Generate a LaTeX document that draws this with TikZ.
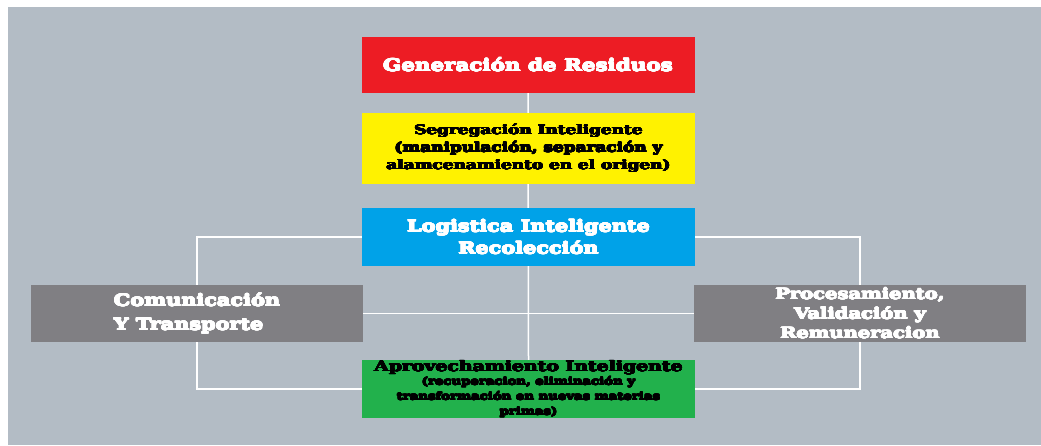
\documentclass[tikz,border=0pt]{standalone}
\usepackage{fontspec}
\usepackage[copies]{contour}
\contourlength{0.4pt}
\contournumber{16}
\newfontfamily\heavy{DejaVu Serif Bold}[FakeStretch=1.3]
\newcommand{\wline}[1]{\contour{white}{#1}}
\newcommand{\kline}[1]{\contour{black}{#1}}
\usetikzlibrary{backgrounds}
\definecolor{bg}{HTML}{B3BCC5}
\definecolor{rbox}{HTML}{ED1C24}
\definecolor{ybox}{HTML}{FFF200}
\definecolor{bbox}{HTML}{00A2E8}
\definecolor{gbox}{HTML}{807F83}
\definecolor{grbox}{HTML}{22B14C}
\tikzset{
  box/.style={draw=none, inner sep=0pt, minimum width=333pt, font=\heavy, align=center},
  link/.style={draw=white, line width=1.5pt},
}
\begin{document}
\begin{tikzpicture}[x=1pt,y=-1pt]
\useasboundingbox (0,0) rectangle (1041,445);
\node[box, fill=rbox, text=white, minimum height=56pt, font=\heavy\fontsize{16.5}{20}\selectfont] (gen) at (528,65) {\wline{Generación de Residuos}};
\node[box, fill=ybox, text=black, minimum height=71pt, font=\heavy\fontsize{13}{17.5}\selectfont] (seg) at (528.5,148.5) {\kline{Segregación Inteligente}\\\kline{(manipulación, separación y}\\\kline{alamcenamiento en el origen)}};
\node[box, fill=bbox, text=white, minimum height=58pt, font=\heavy\fontsize{16}{22}\selectfont] (log) at (528.5,237) {\wline{Logistica Inteligente}\\\wline{Recolección}};
\node[box, fill=gbox, text=white, minimum width=332pt, minimum height=57pt, align=left, font=\heavy\fontsize{16}{24}\selectfont] (com) at (197,313.5) {\wline{Comunicación}\\\wline{Y Transporte}};
\node[box, fill=gbox, text=white, minimum width=332pt, minimum height=57pt, font=\heavy\fontsize{15}{19.5}\selectfont] (pro) at (860,313.5) {\wline{Procesamiento,}\\\wline{Validación y}\\\wline{Remuneracion}};
\node[box, fill=grbox, text=black, minimum height=58pt, font=\heavy\fontsize{14.5}{15}\selectfont] (apr) at (528.5,389) {\kline{Aprovechamiento Inteligente}\\[-1.5pt]\fontsize{10.2}{12.7}\selectfont \kline{(recuperacion, eliminación y}\\\fontsize{10.2}{12.7}\selectfont \kline{transformación en nuevas materias}\\\fontsize{10.2}{12.7}\selectfont \kline{primas)}};
\begin{scope}[on background layer]
\fill[white] (0,0) rectangle (1041,445);
\fill[bg] (8,7) rectangle (1041,445);
\draw[link] (gen.south) -- (apr.north);
\draw[link] (log.west) -| (com.north);
\draw[link] (com.south) |- (apr.west);
\draw[link] (log.east) -| (pro.north);
\draw[link] (pro.south) |- (apr.east);
\draw[link] (com.east) -- (pro.west);
\end{scope}
\end{tikzpicture}
\end{document}
